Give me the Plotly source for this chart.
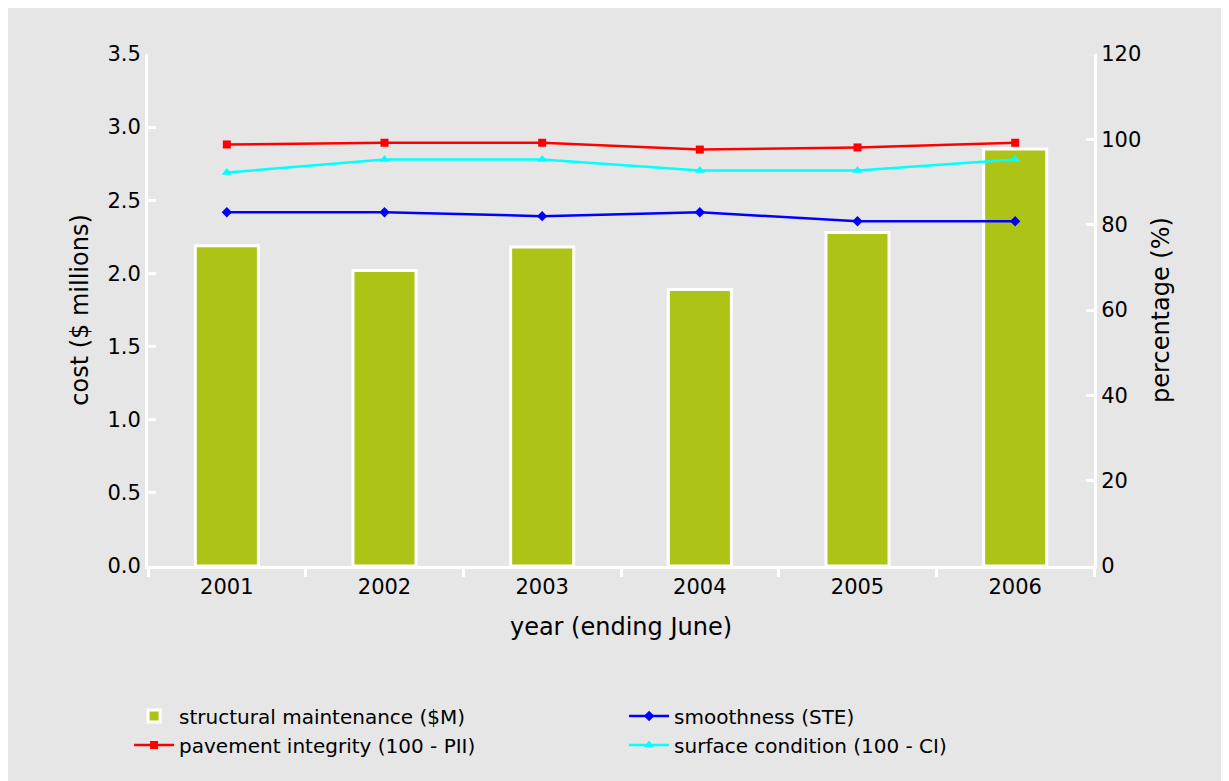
import plotly.graph_objects as go

years = ['2001', '2002', '2003', '2004', '2005', '2006']
maintenance = [2.19, 2.02, 2.18, 1.89, 2.28, 2.85]
smoothness = [82.9, 82.9, 82.0, 82.9, 80.8, 80.8]
integrity = [98.8, 99.2, 99.2, 97.6, 98.1, 99.2]
surface = [92.2, 95.3, 95.3, 92.7, 92.7, 95.3]

fig = go.Figure()
fig.add_bar(x=years, y=maintenance, name='structural maintenance ($M)', width=0.4,
            marker=dict(color='#adc417', line=dict(color='white', width=3)))
fig.add_scatter(x=years, y=smoothness, name='smoothness (STE)', yaxis='y2', mode='lines+markers',
                line=dict(color='#0000ff', width=2.5), marker=dict(symbol='diamond', size=8))
fig.add_scatter(x=years, y=integrity, name='pavement integrity (100 - PII)', yaxis='y2', mode='lines+markers',
                line=dict(color='#ff0000', width=2.5), marker=dict(symbol='square', size=8))
fig.add_scatter(x=years, y=surface, name='surface condition (100 - CI)', yaxis='y2', mode='lines+markers',
                line=dict(color='#00ffff', width=2.5), marker=dict(symbol='triangle-up', size=9))

font = dict(family='DejaVu Sans', size=20, color='black')
tickfont = dict(family='DejaVu Sans', size=21, color='black')
fig.update_layout(
    width=1229, height=781, font=font,
    paper_bgcolor='#e6e6e6', plot_bgcolor='#e6e6e6',
    margin=dict(l=140, r=143, t=46, b=223, autoexpand=False),
    showlegend=True,
    legend=dict(orientation='h', x=-0.02, y=-0.255, xanchor='left', yanchor='top',
                entrywidth=440, traceorder='normal', bgcolor='rgba(0,0,0,0)', font=font,
                itemwidth=40),
    xaxis=dict(title=dict(text='year (ending June)', standoff=20), showline=True, linecolor='white', linewidth=3,
               ticks='outside', tickcolor='white', ticklen=8, tickwidth=3, tickson='boundaries', showgrid=False,
               tickfont=tickfont),
    yaxis=dict(title=dict(text='cost ($ millions)', standoff=12), range=[0, 3.5], dtick=0.5, tickformat='.1f',
               showgrid=False, showline=True, linecolor='white', linewidth=3, ticks='inside', tickcolor='white',
               ticklen=8, tickwidth=3, zeroline=False, tickfont=tickfont),
    yaxis2=dict(title=dict(text='percentage (%)', standoff=12), range=[0, 120], dtick=20, overlaying='y',
                side='right', showgrid=False, showline=True, linecolor='white', linewidth=3, ticks='inside',
                tickcolor='white', ticklen=8, tickwidth=3, zeroline=False, tickfont=tickfont),
)
fig.write_html('out.html')
